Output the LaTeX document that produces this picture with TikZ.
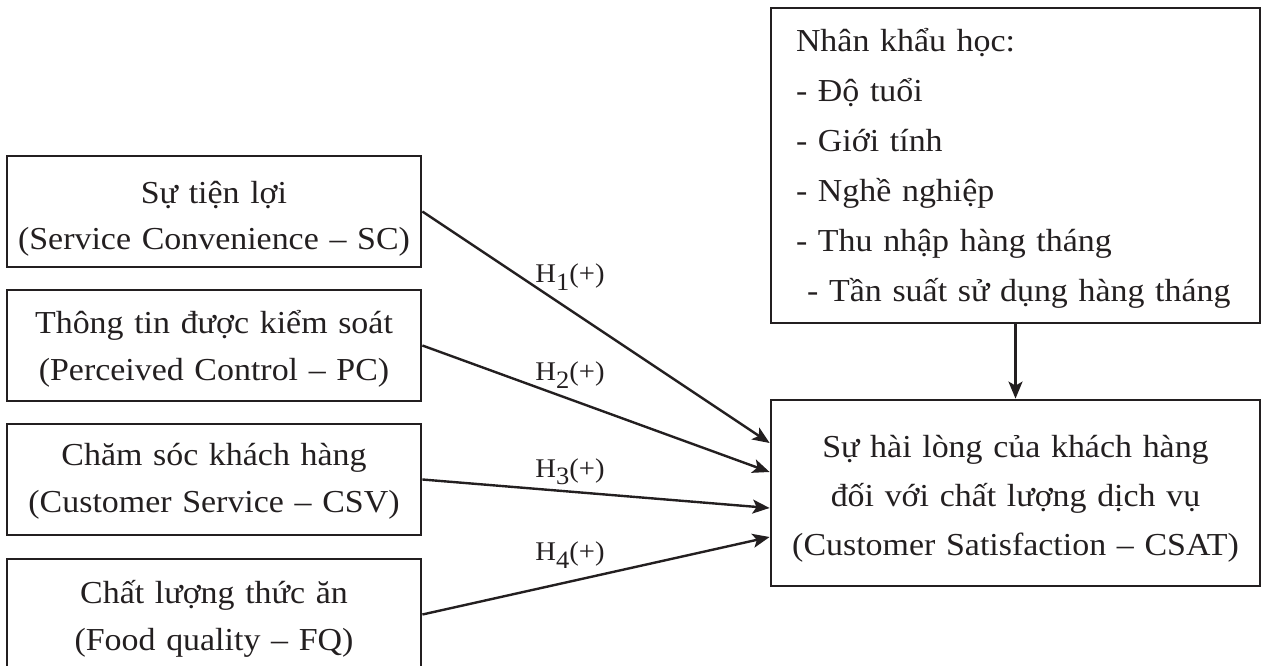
\documentclass[tikz,border=0pt]{standalone}
\usepackage{fontspec}
\setmainfont[FakeStretch=1.06]{Liberation Serif}
\usetikzlibrary{arrows.meta}
\definecolor{ink}{HTML}{231F20}
\newcommand{\hsub}[1]{H\raisebox{-0.27em}{\fontsize{25}{25}\selectfont #1}(+)}
\begin{document}
\begin{tikzpicture}[x=1pt,y=-1pt,
  box/.style={draw=ink, line width=2.8pt, rectangle, inner sep=0pt, text=ink, align=center},
  leftbox/.style={box, minimum width=414pt, minimum height=111pt, text width=414pt, text height=20pt, text depth=#1, font=\fontsize{32}{47}\selectfont},
  link/.style={draw=ink, line width=2.4pt, -{Stealth[length=17pt,width=14pt,inset=4pt]}},
  hlabel/.style={text=ink, font=\fontsize{27}{30}\selectfont, inner sep=0pt}
]
\useasboundingbox (0,0) rectangle (1261,666);
\node[leftbox=37pt] (sc) at (214,211.5) {Sự tiện lợi\\(Service Convenience – SC)};
\node[leftbox=45pt] (pc) at (214,345.5) {Thông tin được kiểm soát\\(Perceived Control – PC)};
\node[leftbox=49pt] (csv) at (214,479.5) {Chăm sóc khách hàng\\(Customer Service – CSV)};
\node[leftbox=43pt] (fq) at (214,614.5) {Chất lượng thức ăn\\(Food quality – FQ)};
\node[box, minimum width=489pt, minimum height=315pt, align=left, text width=439pt, inner xsep=25pt,
  text height=20pt, text depth=247pt, font=\fontsize{32}{50}\selectfont] (demo) at (1015.5,165.5)
  {Nhân khẩu học:\\- Độ tuổi\\- Giới tính\\- Nghề nghiệp\\- Thu nhập hàng tháng\\\hspace{0.35em}- Tần suất sử dụng hàng tháng};
\node[box, minimum width=489pt, minimum height=186pt, text width=489pt, text height=20pt, text depth=92pt,
  font=\fontsize{32}{49}\selectfont] (csat) at (1015.5,493)
  {Sự hài lòng của khách hàng\\đối với chất lượng dịch vụ\\(Customer Satisfaction – CSAT)};
\draw[link] (sc.east) -- ([yshift=50pt]csat.west);
\draw[link] (pc.east) -- ([yshift=21pt]csat.west);
\draw[link] (csv.east) -- ([yshift=-15pt]csat.west);
\draw[link] (fq.east) -- ([yshift=-44pt]csat.west);
\draw[link] (demo.south) -- (csat.north);
\node[hlabel] (h1) at (570,277) {\hsub{1}};
\node[hlabel] (h2) at (570,375) {\hsub{2}};
\node[hlabel] (h3) at (570,472) {\hsub{3}};
\node[hlabel] (h4) at (570,555) {\hsub{4}};
\end{tikzpicture}
\end{document}
